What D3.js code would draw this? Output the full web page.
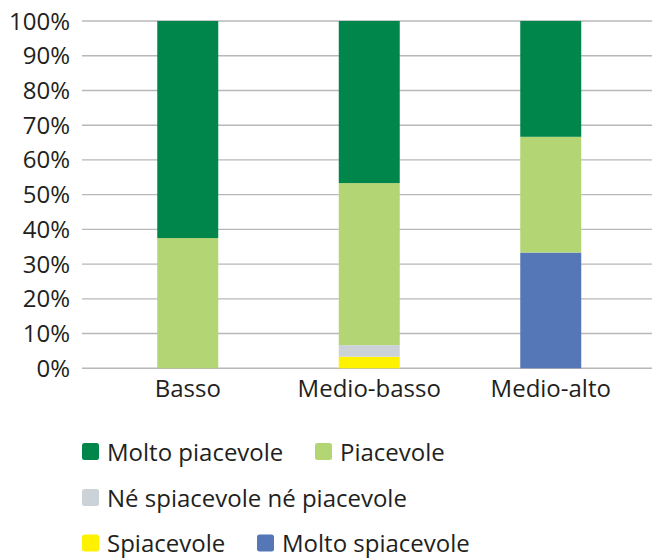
<!DOCTYPE html>
<html><head><meta charset="utf-8">
<script src="https://cdn.jsdelivr.net/npm/d3@7"></script>
<style>body{margin:0;background:#fff}svg{display:block}text{font-family:"Open Sans",sans-serif;fill:#231f20}</style>
</head><body>
<svg id="c" width="652" height="559"></svg>
<script>
const categories = ["Basso", "Medio-basso", "Medio-alto"];
const seriesNames = ["Molto spiacevole", "Spiacevole", "Né spiacevole né piacevole", "Piacevole", "Molto piacevole"];
const seriesColors = ["#5677b7", "#fff200", "#cbd3d8", "#b3d574", "#00854a"];
const moltoSpiacevole = [0, 0, 33.33];
const spiacevole = [0, 3.33, 0];
const neNe = [0, 3.33, 0];
const piacevole = [37.5, 46.67, 33.33];
const moltoPiacevole = [62.5, 46.67, 33.34];
const yTicks = [0, 10, 20, 30, 40, 50, 60, 70, 80, 90, 100];

const seriesValues = [moltoSpiacevole, spiacevole, neNe, piacevole, moltoPiacevole];
const rows = categories.map((c, i) => {
  const r = {cat: c};
  seriesNames.forEach((s, k) => r[s] = seriesValues[k][i]);
  return r;
});
const stacked = d3.stack().keys(seriesNames)(rows);

const svg = d3.select("#c");
const y = d3.scaleLinear().domain([0, 100]).range([368.3, 21]);
const x = d3.scaleBand().domain(categories).range([97, 641.5]).paddingInner(0.664).paddingOuter(0.332);

// gridlines
svg.append("g").selectAll("line").data(yTicks).join("line")
  .attr("x1", 82).attr("x2", 652)
  .attr("y1", d => y(d)).attr("y2", d => y(d))
  .attr("stroke", "#b8b8b8").attr("stroke-width", 1.4);

// y labels
svg.append("g").selectAll("text").data(yTicks).join("text")
  .attr("x", 70).attr("y", d => y(d) + 8.5)
  .attr("text-anchor", "end").attr("font-size", 24)
  .text(d => d + "%");

// bars
svg.append("g").selectAll("g").data(stacked).join("g")
  .attr("fill", (d, i) => seriesColors[i])
  .selectAll("rect").data(d => d).join("rect")
  .attr("x", d => x(d.data.cat))
  .attr("width", x.bandwidth())
  .attr("y", d => y(d[1]))
  .attr("height", d => y(d[0]) - y(d[1]));

// x labels
svg.append("g").selectAll("text").data(categories).join("text")
  .attr("x", d => x(d) + x.bandwidth() / 2).attr("y", 397)
  .attr("text-anchor", "middle").attr("font-size", 24)
  .text(d => d);

// legend
const legendItems = [
  {name: "Molto piacevole", k: 4, x: 82, y: 443},
  {name: "Piacevole", k: 3, x: 315, y: 443},
  {name: "Né spiacevole né piacevole", k: 2, x: 82, y: 489},
  {name: "Spiacevole", k: 1, x: 82, y: 534.5},
  {name: "Molto spiacevole", k: 0, x: 257, y: 534.5}
];
const lg = svg.append("g").selectAll("g").data(legendItems).join("g");
lg.append("rect").attr("x", d => d.x).attr("y", d => d.y)
  .attr("width", 17).attr("height", 17).attr("rx", 2.5)
  .attr("fill", d => seriesColors[d.k]);
lg.append("text").attr("x", d => d.x + 25).attr("y", d => d.y + 17.5)
  .attr("font-size", 24).text(d => d.name);
</script>
</body></html>
